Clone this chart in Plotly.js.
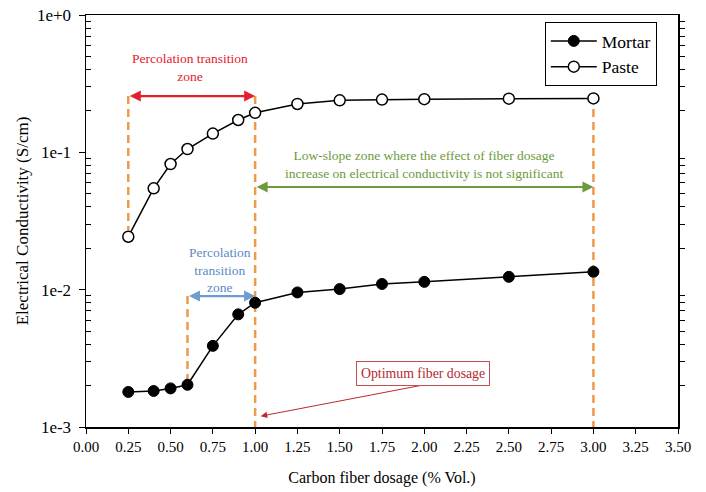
<!DOCTYPE html>
<html>
<head>
<meta charset="utf-8">
<script src="https://cdn.plot.ly/plotly-3.0.1.min.js"></script>
<style>html,body{margin:0;padding:0;background:#fff;}#chart{width:706px;height:492px;}</style>
</head>
<body>
<div id="chart"></div>
<script>
// ---- data ----
const dosage = [0.25, 0.4, 0.5, 0.6, 0.75, 0.9, 1.0, 1.25, 1.5, 1.75, 2.0, 2.5, 3.0];
const mortar = [0.00180, 0.00183, 0.00191, 0.00203, 0.00390, 0.00661, 0.00803, 0.00955, 0.0101, 0.0110, 0.0114, 0.0124, 0.0135];
const paste  = [0.0243, 0.0547, 0.0822, 0.1057, 0.137, 0.172, 0.194, 0.225, 0.239, 0.242, 0.244, 0.246, 0.247];
const yTickVals = [1e-3, 1e-2, 1e-1, 1];
const yTickText = ['1e-3', '1e-2', '1e-1', '1e+0'];
const xTickVals = [0, 0.25, 0.5, 0.75, 1, 1.25, 1.5, 1.75, 2, 2.25, 2.5, 2.75, 3, 3.25, 3.5];
// annotation levels (data units)
const redArrowY = 0.257, greenArrowY = 0.0559, blueArrowY = 0.00898;
const zoneRed = [0.25, 1.0], zoneGreen = [1.0, 3.0], zoneBlue = [0.6, 1.0];

const minorVals = [];
for (let e = -3; e < 0; e++) for (let m = 2; m <= 9; m++) minorVals.push(m * Math.pow(10, e));

const serif = 'Liberation Serif';
const orange = '#EE9A4A';
const L = Math.log10;
const annSize = 13.5;

function vline(x, y0, y1, color) {
  return {x: [x, x], y: [y0, y1], mode: 'lines', line: {color: color, width: 2.5, dash: '8px,5px'},
          showlegend: false, hoverinfo: 'skip'};
}

const traces = [
  vline(zoneRed[0], redArrowY, paste[0] * 1.12, orange),
  vline(zoneRed[1], redArrowY, 1e-3, orange),
  vline(zoneGreen[1], redArrowY, 1e-3, orange),
  vline(zoneBlue[0], blueArrowY, mortar[3] * 1.08, orange),
  {x: dosage, y: mortar, name: 'Mortar', mode: 'lines+markers',
   line: {color: '#000', width: 1.5},
   marker: {symbol: 'circle', size: 11, color: '#000', line: {color: '#000', width: 1}}},
  {x: dosage, y: paste, name: 'Paste', mode: 'lines+markers',
   line: {color: '#000', width: 1.5},
   marker: {symbol: 'circle', size: 11, color: '#fff', line: {color: '#000', width: 1.5}}},
  {x: [0], y: [1e-3], yaxis: 'y2', mode: 'markers', marker: {opacity: 0}, showlegend: false, hoverinfo: 'skip'}
];

function dblArrow(x0, x1, y, color) {
  return {x: x1, y: L(y), ax: x0, ay: L(y), xref: 'x', yref: 'y', axref: 'x', ayref: 'y',
          text: '', showarrow: true, arrowhead: 2, arrowside: 'end+start', arrowsize: 1,
          arrowwidth: 2.2, arrowcolor: color, standoff: 0, startstandoff: 0};
}

const annotations = [
  dblArrow(zoneRed[0], zoneRed[1], redArrowY, '#E5202B'),
  dblArrow(zoneGreen[0], zoneGreen[1], greenArrowY, '#6C9A3C'),
  dblArrow(zoneBlue[0], zoneBlue[1], blueArrowY, '#6E9BD0'),
  {x: 0.613, y: -0.382, xref: 'x', yref: 'y', text: 'Percolation transition<br>zone', showarrow: false,
   font: {family: serif, size: annSize, color: '#E5202B'}},
  {x: 2.0, y: -1.089, xref: 'x', yref: 'y',
   text: 'Low-slope zone where the effect of fiber dosage<br>increase on electrical conductivity is not significant',
   showarrow: false, font: {family: serif, size: annSize, color: '#6C9A3C'}},
  {x: 0.79, y: -1.854, xref: 'x', yref: 'y', text: 'Percolation<br>transition<br>zone', showarrow: false,
   font: {family: serif, size: annSize, color: '#5B8AC6'}},
  {x: 1.033, y: -2.921, ax: 1.99, ay: -2.695, xref: 'x', yref: 'y', axref: 'x', ayref: 'y',
   text: '', showarrow: true, arrowhead: 2, arrowsize: 1.3, arrowwidth: 1, arrowcolor: '#C0272D', standoff: 0},
  {x: 1.99, y: -2.607, xref: 'x', yref: 'y', text: 'Optimum fiber dosage', showarrow: false,
   font: {family: serif, size: 13.8, color: '#B22A2E'}, bordercolor: '#C0504D', borderwidth: 1,
   borderpad: 4, bgcolor: '#fff'}
];

const layout = {
  width: 706, height: 492,
  margin: {l: 86, r: 28, t: 15, b: 65},
  paper_bgcolor: '#fff', plot_bgcolor: '#fff',
  font: {family: serif, size: 14, color: '#000'},
  showlegend: true,
  legend: {x: 0.775, y: 0.983, xanchor: 'left', yanchor: 'top', bordercolor: '#000', borderwidth: 1,
           bgcolor: '#fff', font: {family: serif, size: 17.5, color: '#000'}, tracegroupgap: 0,
           itemwidth: 46},
  xaxis: {range: [0, 3.5], tickmode: 'array', tickvals: xTickVals, tickformat: '.2f',
          ticks: 'outside', ticklen: 5, tickwidth: 1, tickcolor: '#000',
          showline: true, linecolor: '#000', linewidth: 1.5, mirror: true,
          showgrid: false, zeroline: false,
          tickfont: {family: serif, size: 15},
          title: {text: 'Carbon fiber dosage (% Vol.)', font: {family: serif, size: 16}, standoff: 18}},
  yaxis: {type: 'log', range: [-3, 0], tickmode: 'array', tickvals: yTickVals, ticktext: yTickText,
          ticks: 'outside', ticklen: 6, tickwidth: 1, tickcolor: '#000', ticklabelstandoff: 4,
          showline: true, linecolor: '#000', linewidth: 1.5,
          showgrid: false, zeroline: false,
          minor: {tickmode: 'array', tickvals: minorVals, ticks: 'inside', ticklen: 5, tickcolor: '#000', tickwidth: 1, showgrid: false},
          tickfont: {family: serif, size: 17},
          title: {text: 'Electrical Conductivity (S/cm)', font: {family: serif, size: 17}, standoff: 4}},
  yaxis2: {type: 'log', range: [-3, 0], overlaying: 'y', side: 'right', showticklabels: false,
           tickmode: 'array', tickvals: yTickVals, ticks: 'outside', ticklen: 0,
           showline: true, linecolor: '#000', linewidth: 1.5, showgrid: false, zeroline: false,
           minor: {tickmode: 'array', tickvals: minorVals, ticks: 'outside', ticklen: 5, tickcolor: '#000', tickwidth: 1, showgrid: false}},
  annotations: annotations
};

Plotly.newPlot('chart', traces, layout, {displayModeBar: false, staticPlot: true});
</script>
</body>
</html>
